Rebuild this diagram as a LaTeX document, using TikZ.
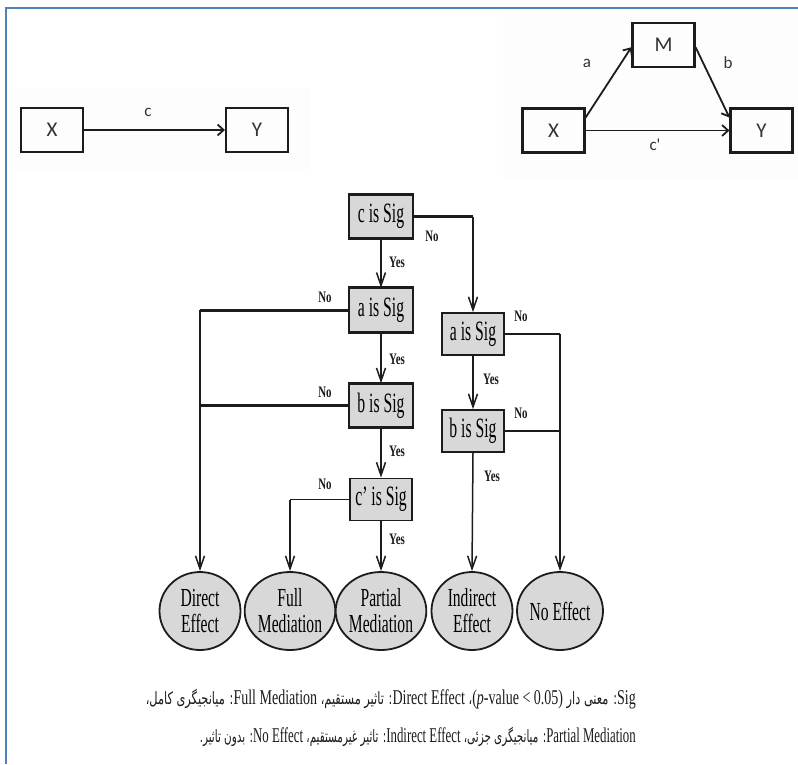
\documentclass[tikz,border=0pt]{standalone}
\usepackage{fontspec}
\usepackage{graphicx}
\setmainfont{Liberation Serif}
\newfontfamily\sansf{Carlito}
\newfontfamily\fa[Script=Arabic]{DejaVu Sans}
\TeXXeTstate=1
\usetikzlibrary{arrows.meta,shapes.geometric}

\definecolor{ink}{HTML}{1C1C1C}
\definecolor{sansink}{HTML}{333333}
\definecolor{boxgray}{HTML}{D8D8D8}
\definecolor{frameblue}{HTML}{4F81BD}
\definecolor{haze}{HTML}{FDFDFD}

% condensed serif text used in the flowchart
\newcommand{\boxtxt}[1]{\scalebox{0.56}[1]{\fontsize{28}{28}\selectfont #1}}
\newcommand{\outtxt}[1]{\scalebox{0.6}[1]{#1}}
\newcommand{\yn}[1]{\scalebox{0.68}[1]{\fontsize{16}{16}\selectfont\bfseries #1}}
\newcommand{\en}{\fontsize{21}{21}\selectfont\rmfamily}
\newcommand{\faf}{\fontsize{17}{17}\selectfont\fa}

\begin{document}
\begin{tikzpicture}[x=1pt,y=-1pt,
  flowbox/.style={draw=ink, line width=1.5pt, fill=boxgray,
    minimum width=64pt, minimum height=43pt, inner sep=0pt},
  sidebox/.style={flowbox, line width=1.8pt, minimum width=62pt, minimum height=42pt},
  outnode/.style={ellipse, draw=ink, line width=1.8pt, fill=boxgray,
    minimum width=81pt, minimum height=78pt, inner sep=0pt, align=center,
    font=\fontsize{26}{26}\selectfont},
  thinln/.style={draw=ink, line width=1.5pt},
  thickln/.style={draw=ink, line width=3pt},
  flowarrow/.style={thinln, -{Straight Barb[length=13pt,width=9pt]}},
  sbox/.style={draw=ink, line width=2.2pt, minimum width=62pt, minimum height=44pt,
    inner sep=0pt, font=\sansf\fontsize{21}{21}\selectfont, text=sansink},
  sarrow/.style={draw=ink, line width=1.8pt, -{Straight Barb[length=6pt,width=11pt]}},
  slabel/.style={font=\sansf\fontsize{17}{17}\selectfont, text=sansink, inner sep=0pt},
  yn/.style={inner sep=0pt, text=ink}
]
\useasboundingbox (0,0) rectangle (798,764);
\fill[white] (0,0) rectangle (798,764);

% faint panels behind the two path models
\fill[haze] (15,88) rectangle (310,170);
\fill[haze] (503,15) rectangle (798,180);

% page frame
\draw[frameblue, line width=2.5pt] (6,764) -- (6,8) -- (798,8);

% ---- total effect model ----
\node[sbox] (x1) at (52,130) {X};
\node[sbox] (y1) at (257,130) {Y};
\draw[sarrow] (x1) -- (y1);
\node[slabel] (lc) at (148,112) {c};

% ---- mediation model ----
\node[sbox] (m) at (663.5,45) {M};
\node[sbox] (x2) at (553.5,130.5) {X};
\node[sbox] (y2) at (761.5,130.5) {Y};
\draw[sarrow] (x2.22) -- (m.184);
\draw[sarrow] (m.-4) -- (y2.158);
\draw[sarrow] (x2.east) -- (y2.west);
\node[slabel] (la) at (587,63) {a};
\node[slabel] (lb) at (728,63) {b};
\node[slabel] (lcp) at (655,145) {c'};

% ---- decision boxes ----
\node[flowbox] (c)  at (381,216.5) {\boxtxt{c is Sig}};
\node[flowbox] (a1) at (381,310)   {\boxtxt{a is Sig}};
\node[flowbox] (b1) at (381,405.5) {\boxtxt{b is Sig}};
\node[sidebox] (cp) at (381,499.5) {\boxtxt{c' is Sig}};
\node[sidebox] (a2) at (473,334)   {\boxtxt{a is Sig}};
\node[sidebox] (b2) at (473,431)   {\boxtxt{b is Sig}};

% heavy top and bottom rules of the main-path boxes
\foreach \b in {c,a1,b1}{
  \draw[thickln] (\b.north west) -- (\b.north east);
  \draw[thickln] (\b.south west) -- (\b.south east);
}

% ---- outcomes ----
\node[outnode] (de) at (200,611) {\outtxt{Direct}\\\outtxt{Effect}};
\node[outnode] (fm) at (290,611) {\outtxt{Full}\\\outtxt{Mediation}};
\node[outnode] (pm) at (381,611) {\outtxt{Partial}\\\outtxt{Mediation}};
\node[outnode] (ie) at (472,611) {\outtxt{Indirect}\\\outtxt{Effect}};
\node[outnode] (ne) at (560,611) {\outtxt{No Effect}};

% ---- connectors ----
\coordinate (cturn)  at (c.east -| a2.north);
\coordinate (a1turn) at (a1.west -| de.north);
\coordinate (b1join) at (b1.west -| de.north);
\coordinate (cpturn) at (cp.west -| fm.north);
\coordinate (a2turn) at (a2.east -| ne.north);
\coordinate (b2join) at (b2.east -| ne.north);

\draw[flowarrow] (c.south) -- (a1.north);
\draw[flowarrow] (a1.south) -- (b1.north);
\draw[flowarrow] (b1.south) -- (cp.north);
\draw[flowarrow] (cp.south) -- (pm.north);

\draw[thickln] (c.east) -- (cturn);
\draw[flowarrow] (cturn) -- (a2.north);
\draw[flowarrow] (a2.south) -- (b2.north);
\draw[flowarrow] (b2.south) -- (ie.north);

\draw[thickln] (a1.west) -- (a1turn);
\draw[flowarrow] (a1turn) -- (de.north);
\draw[thickln] (b1.west) -- (b1join);

\draw[thinln] (cp.west) -- (cpturn);
\draw[flowarrow] (cpturn) -- (fm.north);

\draw[thinln] (a2.east) -- (a2turn);
\draw[flowarrow] (a2turn) -- (ne.north);
\draw[thinln] (b2.east) -- (b2join);

% ---- branch labels ----
\node[yn] (n1) at (432,236) {\yn{No}};
\node[yn] (y1l) at (397,262) {\yn{Yes}};
\node[yn] (n2) at (325,297) {\yn{No}};
\node[yn] (n3) at (521,316) {\yn{No}};
\node[yn] (y2l) at (397,359) {\yn{Yes}};
\node[yn] (y3l) at (491,379) {\yn{Yes}};
\node[yn] (n4) at (325,392) {\yn{No}};
\node[yn] (n5) at (521,413) {\yn{No}};
\node[yn] (y4l) at (397,451) {\yn{Yes}};
\node[yn] (y5l) at (492,476) {\yn{Yes}};
\node[yn] (n6) at (325,484) {\yn{No}};
\node[yn] (y6l) at (397,539) {\yn{Yes}};

% ---- caption (right-to-left paragraph) ----
\node[anchor=east, inner sep=0pt, text=ink] (cap1) at (636,699) {\resizebox{490pt}{\height}{%
  \beginR\beginL\en Sig\endL{}\faf : معنی دار \beginL\en(\textit{p}-value < 0.05)\endL{}\faf ، \beginL\en Direct Effect\endL{}\faf : تاثیر مستقیم، \beginL\en Full Mediation\endL{}\faf : میانجیگری کامل،\endR}};
\node[anchor=east, inner sep=0pt, text=ink] (cap2) at (636,737) {\resizebox{436pt}{\height}{%
  \beginR\beginL\en Partial Mediation\endL{}\faf : میانجیگری جزئی، \beginL\en Indirect Effect\endL{}\faf : تاثیر غیرمستقیم، \beginL\en No Effect\endL{}\faf : بدون تاثیر.\endR}};
\end{tikzpicture}
\end{document}
